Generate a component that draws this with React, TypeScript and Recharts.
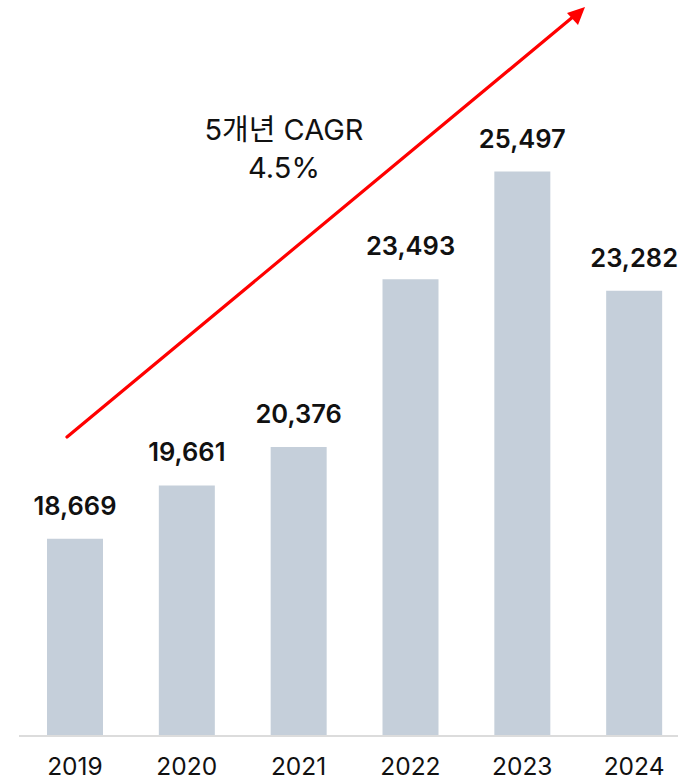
import React from 'react';
import { BarChart, Bar, XAxis, YAxis, LabelList } from 'recharts';

const years = ['2019', '2020', '2021', '2022', '2023', '2024'];
const revenue = [18669, 19661, 20376, 23493, 25497, 23282];

const cagrLine1 = '5개년 CAGR';
const cagrLine2 = '4.5%';

const data = years.map((year, i) => ({ year, value: revenue[i] }));

const FONT = 'Inter, "Noto Sans CJK KR", sans-serif';

export default function App() {
  return (
    <div style={{
      position: 'absolute',
      left: 0,
      top: 0,
      width: 678,
      height: 780,
      overflow: 'hidden',
      background: 'white',
      fontFamily: FONT
    }}>
      <BarChart
        width={690}
        height={780}
        data={data}
        margin={{ top: 37, right: 0, left: 19, bottom: 0 }}
      >
        <XAxis
          dataKey="year"
          height={44}
          axisLine={{ stroke: '#dcdcdc', strokeWidth: 2 }}
          tickLine={false}
          tickMargin={16}
          tick={{ fill: '#111111', fontSize: 24.5, fontFamily: FONT }}
        />
        <YAxis hide domain={[15000, 28000]} />
        <Bar dataKey="value" fill="#c5cfda" barSize={56} isAnimationActive={false}>
          <LabelList
            dataKey="value"
            position="top"
            offset={24}
            formatter={(v: number) => v.toLocaleString('en-US')}
            style={{ fill: '#111111', fontSize: 25.5, fontWeight: 600, fontFamily: FONT }}
          />
        </Bar>
      </BarChart>

      <svg
        width={678}
        height={780}
        style={{ position: 'absolute', left: 0, top: 0, pointerEvents: 'none' }}
      >
        <line x1={67} y1={437} x2={574} y2={16} stroke="#ff0000" strokeWidth={3.2} strokeLinecap="round" />
        <polygon points="585,7 567,13 578,25" fill="#ff0000" />
        <text x={284} y={140} textAnchor="middle" fontSize={29} fill="#111111" fontFamily={FONT}>
          {cagrLine1}
        </text>
        <text x={284} y={178} textAnchor="middle" fontSize={29} fill="#111111" fontFamily={FONT}>
          {cagrLine2}
        </text>
      </svg>
    </div>
  );
}
